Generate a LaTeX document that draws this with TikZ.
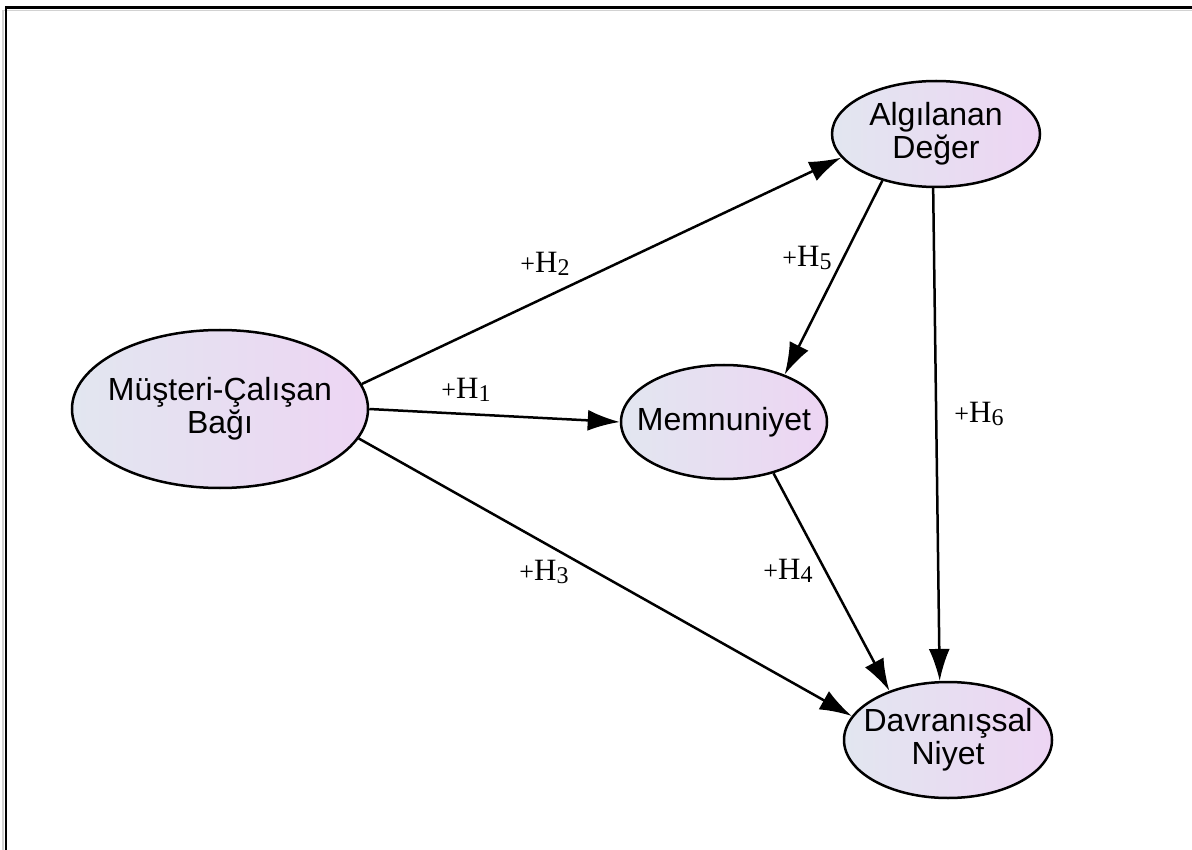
\documentclass[tikz,border=0pt]{standalone}
\usepackage{fontspec}
\setmainfont{Liberation Serif}
\newfontfamily\nodefont{Liberation Sans}
\usetikzlibrary{arrows.meta,shapes.geometric}

\definecolor{fillA}{RGB}{226,230,240}
\definecolor{fillB}{RGB}{237,213,243}

% hypothesis label: +H with a smaller, slightly lowered index
\newcommand{\hypo}[1]{{\fontsize{31}{33}\selectfont{\fontsize{26}{28}\selectfont +}H\raisebox{-3pt}{\fontsize{24}{26}\selectfont #1}}}

\begin{document}
\begin{tikzpicture}[x=1pt,y=-1pt,
  construct/.style={ellipse, draw, line width=2.5pt, inner sep=0pt,
    left color=fillA, right color=fillB},
  ctext/.style={align=center, inner sep=0pt,
    font=\nodefont\fontsize{32}{33}\selectfont},
  conn/.style={line width=2.5pt, -{Latex[length=32pt,width=21pt]}},
  hlab/.style={inner sep=0pt}]

\useasboundingbox (0,0) rectangle (1192,850);

% frame
\draw[gray!35, line width=1.5pt] (3,850) -- (3,10.5) -- (1192,10.5);
\draw[line width=2.5pt] (6,850) -- (6,7.5) -- (1192,7.5);

% constructs
\node[construct, minimum width=296pt, minimum height=158pt,
  label={[ctext]center:{Müşteri-Çalışan\\Bağı}}] (mcb) at (220,409) {};
\node[construct, minimum width=208pt, minimum height=106pt,
  label={[ctext]center:{Algılanan\\Değer}}] (ad) at (936,134) {};
\node[construct, minimum width=206pt, minimum height=114pt,
  label={[ctext]center:{Memnuniyet}}] (mem) at (724,422) {};
\node[construct, minimum width=208pt, minimum height=116pt,
  label={[ctext]center:{Davranışsal\\Niyet}}] (dn) at (948,740) {};

% hypothesised paths
\draw[conn] (mcb.10) -- (ad.-166);
\draw[conn] (mcb.0) -- (mem.180);
\draw[conn] (mcb.-12) -- (dn.166);
\draw[conn] (ad.-139) -- (mem.38);
\draw[conn] (ad.-93) -- (dn.98);
\draw[conn] (mem.-46) -- (dn.140);

% path labels
\node[hlab] (h1) at (466,390) {\hypo{1}};
\node[hlab] (h2) at (545,264) {\hypo{2}};
\node[hlab] (h3) at (544,572) {\hypo{3}};
\node[hlab] (h4) at (788,571) {\hypo{4}};
\node[hlab] (h5) at (807,258) {\hypo{5}};
\node[hlab] (h6) at (979,414) {\hypo{6}};
\end{tikzpicture}
\end{document}
